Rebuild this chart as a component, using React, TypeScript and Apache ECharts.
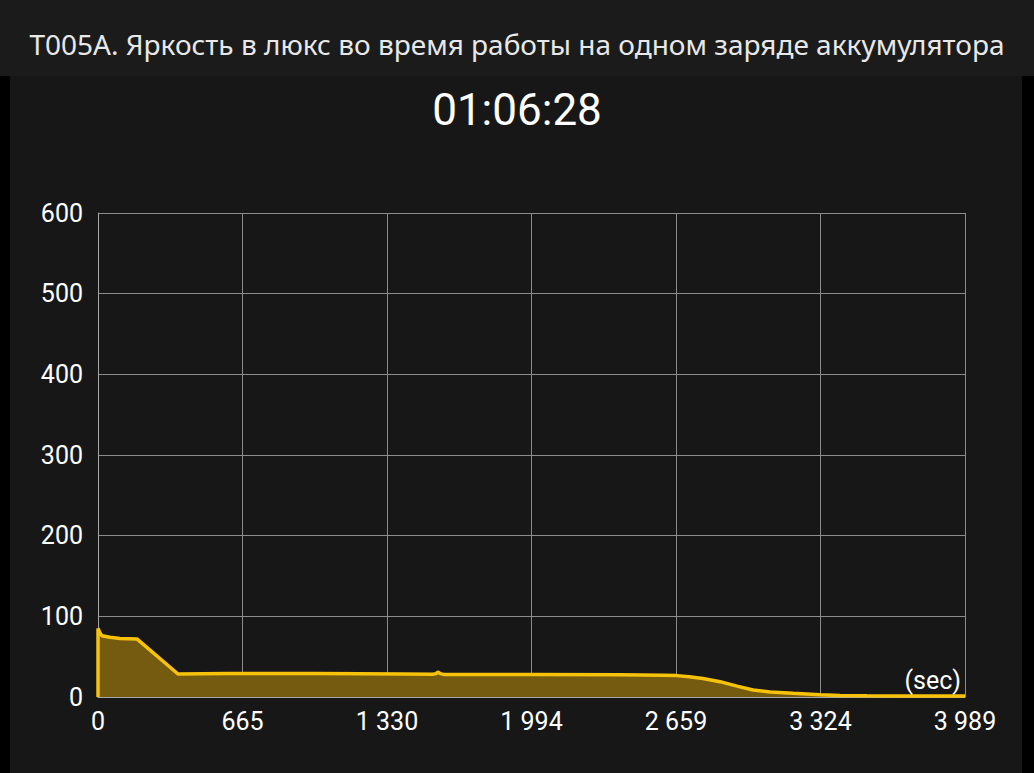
import React, { useEffect, useRef } from "react";
import * as echarts from "echarts";

const titleText = "T005A. Яркость в люкс во время работы на одном заряде аккумулятора";
const durationText = "01:06:28";
const xMax = 3989;
const xTickLabels = ["0", "665", "1 330", "1 994", "2 659", "3 324", "3 989"];
const yTickLabels = ["0", "100", "200", "300", "400", "500", "600"];
const seconds = [0, 0, 8, 18, 55, 101, 179, 368, 600, 1000, 1400, 1540, 1556, 1564, 1575, 1590, 2000, 2400, 2600, 2664, 2720, 2783, 2862, 2940, 3014, 3092, 3198, 3322, 3414, 3538, 3700, 3989];
const lux = [0, 85, 80, 76, 74, 72.5, 72, 28.5, 29.2, 29, 28.5, 28.3, 29, 31, 29, 28, 27.8, 27.5, 27, 26.5, 25, 23, 19, 13.5, 8.7, 6.2, 4.5, 2.9, 2, 1.5, 1.3, 1.3];

export default function App() {
  const ref = useRef<HTMLDivElement>(null);
  useEffect(() => {
    if (!ref.current) return;
    const chart = echarts.init(ref.current, null, { renderer: "svg" });
    const step = xMax / 6;
    chart.setOption({
      animation: false,
      backgroundColor: "transparent",
      grid: { left: 98, right: 69, top: 213, bottom: 76, containLabel: false },
      graphic: [
        {
          type: "text",
          left: "center",
          top: 30,
          style: { text: titleText, fill: "#e8e8e8", fontSize: 28, fontFamily: "Noto Sans" },
        },
        {
          type: "text",
          left: "center",
          top: 88,
          style: { text: durationText, fill: "#ffffff", fontSize: 44, fontFamily: "Roboto" },
        },
        {
          type: "text",
          right: 1034 - 961,
          top: 668,
          z: 10,
          style: { text: "(sec)", fill: "#ffffff", fontSize: 25, fontFamily: "Roboto" },
        },
      ],
      xAxis: {
        type: "value",
        min: 0,
        max: xMax,
        interval: step,
        axisLine: { show: true, lineStyle: { color: "#a8a8a8", width: 1 } },
        axisTick: { show: false },
        splitLine: { show: true, lineStyle: { color: "#8c8c8c", width: 1 } },
        axisLabel: {
          color: "#ffffff",
          fontSize: 25,
          fontFamily: "Roboto",
          margin: 12,
          showMaxLabel: true,
          formatter: (v: number) => xTickLabels[Math.round(v / step)] ?? "",
        },
      },
      yAxis: {
        type: "value",
        min: 0,
        max: 600,
        interval: 100,
        axisLine: { show: true, lineStyle: { color: "#a8a8a8", width: 1 } },
        axisTick: { show: false },
        splitLine: { show: true, lineStyle: { color: "#8c8c8c", width: 1 } },
        axisLabel: {
          color: "#ffffff",
          fontSize: 25,
          fontFamily: "Roboto",
          margin: 15,
          formatter: (v: number) => yTickLabels[Math.round(v / 100)] ?? "",
        },
      },
      series: [
        {
          type: "line",
          data: seconds.map((s, i) => [s, lux[i]]),
          symbol: "none",
          lineStyle: { color: "#f7c20a", width: 3.5 },
          itemStyle: { color: "#f7c20a" },
          areaStyle: { color: "#755b10", opacity: 1 },
        },
      ],
    });
    return () => chart.dispose();
  }, []);
  return (
    <div style={{ position: "fixed", left: 0, top: 0, width: 1034, height: 773, background: "#000" }}>
      <div style={{ position: "absolute", left: 0, top: 0, width: 1034, height: 76, background: "#1b1b1b" }} />
      <div style={{ position: "absolute", left: 10, top: 76, width: 1012, height: 697, background: "#171717" }} />
      <div ref={ref} style={{ position: "absolute", left: 0, top: 0, width: 1034, height: 773 }} />
    </div>
  );
}
